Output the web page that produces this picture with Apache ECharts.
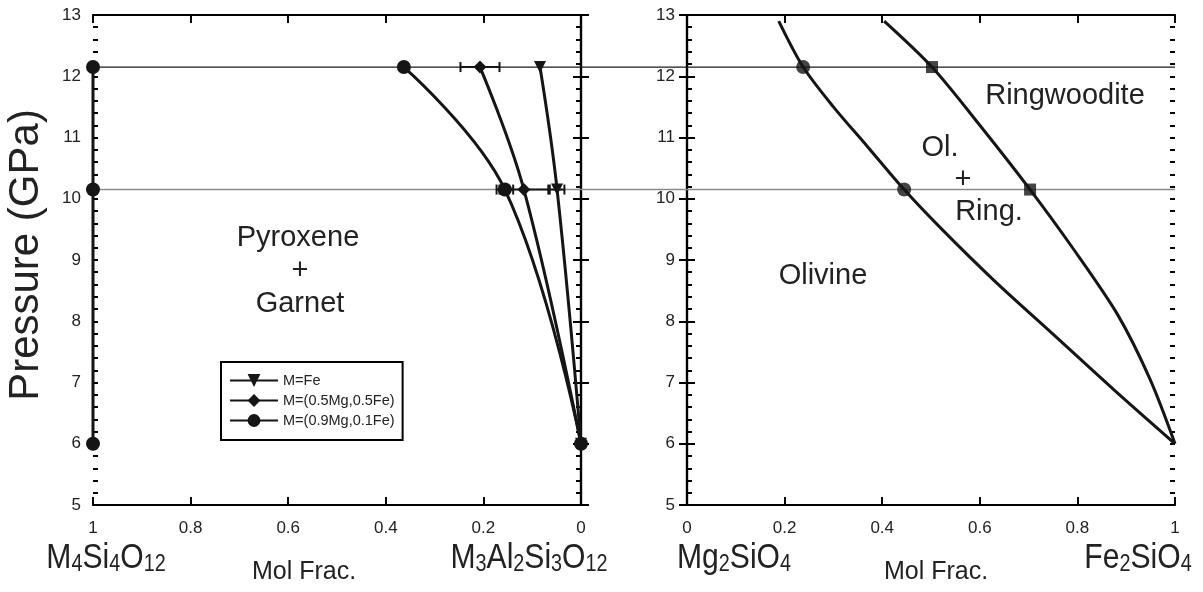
<!DOCTYPE html>
<html>
<head>
<meta charset="utf-8">
<script src="https://cdn.jsdelivr.net/npm/echarts@6/dist/echarts.min.js"></script>
<style>
  html, body { margin: 0; padding: 0; background: #fff; }
  #chart { width: 1203px; height: 592px; }
</style>
</head>
<body>
<div id="chart"></div>
<script>
// ---- Pyroxene + garnet panel -------------------------------------------
// Run pressures (GPa)
const runPressures = [12.15, 10.15, 6];
// Mole fraction on the pyroxene (M4Si4O12) side of the join
const pyroxeneFrac = [1, 1, 1];
// Garnet composition for each bulk M
const garnetFe = [0.084, 0.049, 0];
const garnetMgFe = [0.207, 0.117, 0];
const garnetMg = [0.363, 0.156, 0];
// Horizontal uncertainty on garnet composition
const errFe = [0, 0.015, 0];
const errMgFe = [0.04, 0.05, 0];
const errMg = [0, 0.017, 0];
const seriesNames = ['M=Fe', 'M=(0.5Mg,0.5Fe)', 'M=(0.9Mg,0.1Fe)'];

// ---- Olivine / ringwoodite panel ----------------------------------------
// Olivine-out boundary
const olBoundaryX = [0.188, 0.238, 0.30, 0.37, 0.445, 0.52, 0.63, 0.75, 0.875, 1];
const olBoundaryP = [12.9, 12.15, 11.5, 10.85, 10.15, 9.52, 8.66, 7.79, 6.88, 6];
// Ringwoodite-in boundary
const rwBoundaryX = [0.404, 0.502, 0.60, 0.703, 0.79, 0.883, 0.949, 1];
const rwBoundaryP = [12.9, 12.15, 11.2, 10.15, 9.2, 8.1, 7.05, 6];
// Measured coexisting compositions
const olMeasuredX = [0.238, 0.445];
const rwMeasuredX = [0.502, 0.703];
const measuredP = [12.15, 10.15];

// Axis ranges
const fracMin = 0, fracMax = 1, fracStep = 0.2;
const pMin = 5, pMax = 13, pStep = 1, pMinorStep = 0.2;

const FONT = "'Liberation Sans', Arial, Helvetica, sans-serif";
const INK = '#151515';

const zip = (xs, ys) => xs.map((x, i) => [x, ys[i]]);
const errRows = (xs, ys, es) => xs.map((x, i) => [x, ys[i], x - es[i], x + es[i]]).filter((r, i) => es[i] > 0);

const tickStyle = { color: '#000', width: 2 };

function xAxesFor(grid, inverse) {
  const base = {
    gridIndex: grid, type: 'value', min: fracMin, max: fracMax, interval: fracStep, inverse: inverse,
    axisLine: { lineStyle: { color: '#000', width: 2.2 } },
    axisTick: { inside: true, length: 8, lineStyle: tickStyle },
    splitLine: { show: false }
  };
  return [
    Object.assign({}, base, {
      position: 'bottom',
      axisLabel: { fontSize: 17, color: '#222', fontFamily: FONT, margin: 15,
        formatter: v => String(Math.round(v * 10) / 10) }
    }),
    Object.assign({}, base, { position: 'top', axisLabel: { show: false } })
  ];
}
function yAxesFor(grid) {
  const major = {
    gridIndex: grid, type: 'value', min: pMin, max: pMax, interval: pStep,
    axisLine: { lineStyle: { color: '#000', width: 2.2 } },
    axisTick: { inside: true, length: 8, lineStyle: tickStyle },
    splitLine: { show: false }
  };
  // finer inward ticks every 0.2 GPa
  const minor = {
    gridIndex: grid, type: 'value', min: pMin, max: pMax, interval: pMinorStep,
    axisLine: { show: false }, axisLabel: { show: false }, splitLine: { show: false },
    axisTick: { show: true, inside: true, length: 5, lineStyle: tickStyle }
  };
  return [
    Object.assign({}, major, { position: 'left',
      axisLabel: { fontSize: 17, color: '#222', fontFamily: FONT, margin: 12 } }),
    Object.assign({}, major, { position: 'right', axisLabel: { show: false } }),
    Object.assign({}, minor, { position: 'left' }),
    Object.assign({}, minor, { position: 'right' })
  ];
}

const xAxes = [...xAxesFor(0, true), ...xAxesFor(1, false),
  { gridIndex: 2, type: 'value', min: fracMin, max: fracMax, show: false }];
const yAxes = [...yAxesFor(0), ...yAxesFor(1),
  { gridIndex: 2, type: 'value', min: pMin, max: pMax, show: false }];
// axis indices: left panel x0 / y0, right panel x2 / y4, full-width overlay x4 / y8

function lineSeries(name, data, symbol, size, extra) {
  return Object.assign({
    name: name, type: 'line', xAxisIndex: 0, yAxisIndex: 0, data: data,
    symbol: symbol, symbolSize: size, showSymbol: true, clip: false,
    lineStyle: { color: INK, width: 3 }, itemStyle: { color: INK },
    z: 5
  }, extra || {});
}

const errorBars = {
  type: 'custom', xAxisIndex: 0, yAxisIndex: 0, z: 4, clip: false,
  data: [...errRows(garnetFe, runPressures, errFe),
         ...errRows(garnetMgFe, runPressures, errMgFe),
         ...errRows(garnetMg, runPressures, errMg)],
  encode: { x: 0, y: 1 },
  renderItem: function (params, api) {
    const y = api.value(1);
    const a = api.coord([api.value(2), y]);
    const b = api.coord([api.value(3), y]);
    const h = 5, st = { stroke: INK, lineWidth: 2 };
    return { type: 'group', children: [
      { type: 'line', shape: { x1: a[0], y1: a[1], x2: b[0], y2: b[1] }, style: st },
      { type: 'line', shape: { x1: a[0], y1: a[1] - h, x2: a[0], y2: a[1] + h }, style: st },
      { type: 'line', shape: { x1: b[0], y1: b[1] - h, x2: b[0], y2: b[1] + h }, style: st }
    ] };
  }
};

function refLine(p, color, width) {
  return { type: 'line', xAxisIndex: 4, yAxisIndex: 8, data: [[fracMin, p], [fracMax, p]],
    symbol: 'none', silent: true, z: 1, lineStyle: { color: color, width: width } };
}

function txt(x, y, text, size, extra) {
  return Object.assign({ type: 'text', x: x, y: y, z: 50,
    style: { text: text, fill: '#222', font: size + 'px ' + FONT, textAlign: 'center', textVerticalAlign: 'middle' } }, extra || {});
}
const formulaRich = {
  n: { fontSize: 35, fontFamily: FONT, fill: '#222', lineHeight: 36, verticalAlign: 'bottom' },
  s: { fontSize: 23, fontFamily: FONT, fill: '#222', lineHeight: 18, verticalAlign: 'bottom' }
};
function formula(x, y, rich) {
  return { type: 'text', x: x, y: y, z: 50, scaleX: 0.86,
    style: { text: rich, rich: formulaRich, textAlign: 'center', textVerticalAlign: 'bottom', fill: '#222' } };
}

const option = {
  backgroundColor: '#fff',
  animation: false,
  grid: [
    { left: 93, top: 15, width: 488, height: 490 },
    { left: 687, top: 15, width: 488, height: 490 },
    { left: 93, top: 15, width: 1082, height: 490 }
  ],
  xAxis: xAxes,
  yAxis: yAxes,
  legend: {
    data: seriesNames,
    orient: 'vertical', left: 221, top: 362,
    itemWidth: 48, itemHeight: 16, itemGap: 5,
    borderColor: '#000', borderWidth: 2, borderRadius: 0,
    padding: [11, 8, 12, 8], selectedMode: false,
    textStyle: { fontSize: 14.5, color: '#222', fontFamily: FONT }
  },
  series: [
    refLine(12.15, '#1a1a1a', 1.2),
    refLine(10.15, '#8a8a8a', 1.6),
    lineSeries(seriesNames[0], zip(garnetFe, runPressures), 'triangle', 12, { symbolRotate: 180, smooth: 0.4 }),
    lineSeries(seriesNames[1], zip(garnetMgFe, runPressures), 'diamond', 13, { smooth: 0.4 }),
    lineSeries(seriesNames[2], zip(garnetMg, runPressures), 'circle', 14, { smooth: 0.4 }),
    lineSeries(seriesNames[2], zip(pyroxeneFrac, runPressures), 'circle', 14, {}),
    errorBars,
    { type: 'line', xAxisIndex: 2, yAxisIndex: 4, data: zip(olBoundaryX, olBoundaryP),
      symbol: 'none', smooth: 0.3, clip: false, lineStyle: { color: INK, width: 3 }, z: 5 },
    { type: 'line', xAxisIndex: 2, yAxisIndex: 4, data: zip(rwBoundaryX, rwBoundaryP),
      symbol: 'none', smooth: 0.3, clip: false, lineStyle: { color: INK, width: 3 }, z: 5 },
    { type: 'scatter', xAxisIndex: 2, yAxisIndex: 4, data: zip(olMeasuredX, measuredP),
      symbol: 'circle', symbolSize: 14, itemStyle: { color: INK }, z: 6 },
    { type: 'scatter', xAxisIndex: 2, yAxisIndex: 4, data: zip(rwMeasuredX, measuredP),
      symbol: 'rect', symbolSize: 12, itemStyle: { color: INK }, z: 6 }
  ],
  graphic: [
    txt(26, 255, 'Pressure (GPa)', 42, { rotation: Math.PI / 2 }),
    txt(298, 238, 'Pyroxene', 29),
    txt(300, 271, '+', 29),
    txt(300, 304, 'Garnet', 29),
    txt(823, 276, 'Olivine', 29),
    txt(1065, 96, 'Ringwoodite', 29),
    txt(940, 148, 'Ol.', 29),
    txt(963, 180, '+', 29),
    txt(989, 212, 'Ring.', 29),
    txt(304, 572, 'Mol Frac.', 25),
    txt(936, 572, 'Mol Frac.', 25),
    formula(106, 576, '{n|M}{s|4}{n|Si}{s|4}{n|O}{s|12}'),
    formula(529, 576, '{n|M}{s|3}{n|Al}{s|2}{n|Si}{s|3}{n|O}{s|12}'),
    formula(734, 576, '{n|Mg}{s|2}{n|SiO}{s|4}'),
    formula(1138, 576, '{n|Fe}{s|2}{n|SiO}{s|4}')
  ]
};

const chart = echarts.init(document.getElementById('chart'), null, { renderer: 'canvas' });
chart.setOption(option);
</script>
</body>
</html>
